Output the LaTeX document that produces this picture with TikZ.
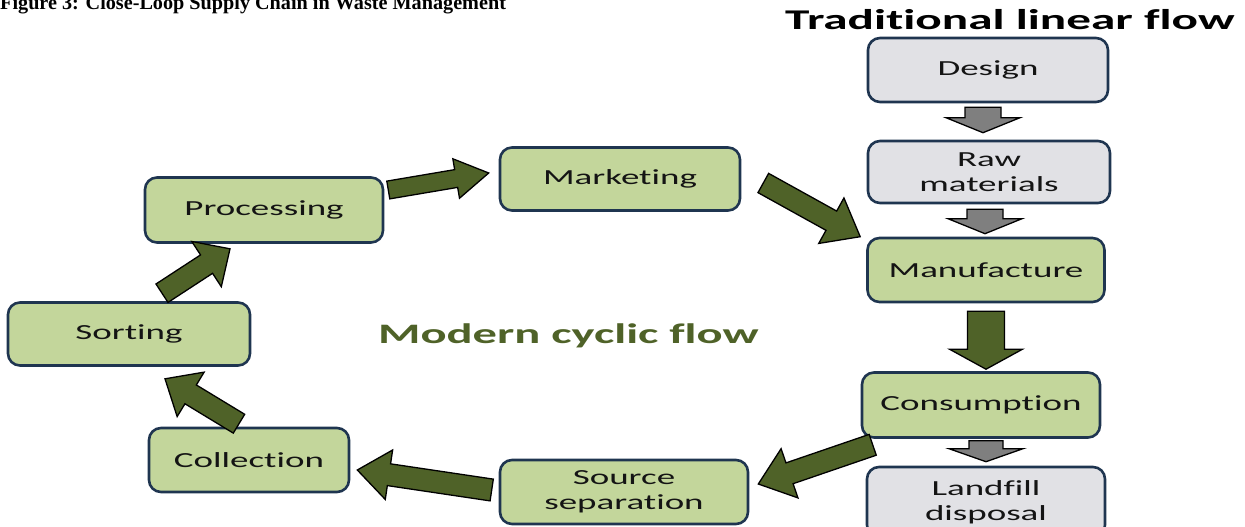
\documentclass[tikz,border=0pt]{standalone}
\usepackage{fontspec}
\setmainfont{Carlito}
\newfontfamily\boxfont[FakeStretch=1.72,Ligatures=NoCommon]{Carlito}
\newfontfamily\titlefont{Liberation Serif}
\usetikzlibrary{calc}
\definecolor{boxgreen}{HTML}{C3D69B}
\definecolor{boxgray}{HTML}{E1E1E5}
\definecolor{boxedge}{HTML}{1F3550}
\definecolor{arrgreen}{HTML}{4F6228}
\definecolor{arrgray}{HTML}{7F7F7F}
\definecolor{txt}{HTML}{141414}
\tikzset{
  stage/.style={draw=boxedge, line width=2.6pt, rounded corners=12pt, fill=boxgreen,
    text=txt, font=\boxfont\fontsize{21.5}{25}\selectfont, align=center, inner sep=0pt},
  graystage/.style={stage, fill=boxgray},
  garrow/.style={draw=black, line width=1.3pt, fill=arrgreen, line join=miter},
  grarrow/.style={draw=black, line width=1.3pt, fill=arrgray, line join=miter}
}
% #1 style, #2 from, #3 to, #4 half shaft, #5 half head, #6 head length
\newcommand\blockarr[6]{%
  \draw[#1] ($(#2)!#4!90:(#3)$)
    -- ($($(#3)!#6!(#2)$)!#4!90:(#3)$)
    -- ($($(#3)!#6!(#2)$)!#5!90:(#3)$)
    -- (#3)
    -- ($($(#3)!#6!(#2)$)!#5!-90:(#3)$)
    -- ($($(#3)!#6!(#2)$)!#4!-90:(#3)$)
    -- ($(#2)!#4!-90:(#3)$) -- cycle;}
\begin{document}
\begin{tikzpicture}[x=1pt,y=-1pt]
\useasboundingbox (0,0) rectangle (1245,527);
% titles
\node[anchor=base west, inner sep=0pt, font=\titlefont\bfseries\fontsize{20.2}{22}\selectfont] (title) at (0,10) {Figure 3: Close-Loop Supply Chain in Waste Management};
\node[anchor=base west, inner sep=0pt, font=\boxfont\bfseries\fontsize{28.6}{30}\selectfont] (trad) at (785,30) {Traditional linear flow};
\node[anchor=base west, inner sep=0pt, text=arrgreen, font=\boxfont\bfseries\fontsize{28.2}{30}\selectfont] (modern) at (378,343) {Modern cyclic flow};
% linear column
\node[graystage, minimum width=240pt, minimum height=64pt] (design) at (988,70) {Design};
\node[graystage, minimum width=242pt, minimum height=62pt] (raw) at (989,172) {Raw\\materials};
\node[stage, minimum width=237pt, minimum height=64pt] (manuf) at (986,270) {Manufacture};
\node[stage, minimum width=238pt, minimum height=65pt] (cons) at (981,405) {Consumption};
\node[graystage, minimum width=238pt, minimum height=70pt] (landfill) at (986,502) {Landfill\\disposal};
% cycle
\node[stage, minimum width=240pt, minimum height=63pt] (mkt) at (620,179) {Marketing};
\node[stage, minimum width=238pt, minimum height=65pt] (proc) at (264,210) {Processing};
\node[stage, minimum width=242pt, minimum height=63pt] (sort) at (129,334) {Sorting};
\node[stage, minimum width=200pt, minimum height=64pt] (coll) at (249,460) {Collection};
\node[stage, minimum width=248pt, minimum height=64pt] (src) at (624,492) {Source\\separation};
% arrow end points
\coordinate (a1s) at ($(design.south)+(-5,4)$);
\coordinate (a1e) at ($(raw.north)+(-6,-7)$);
\coordinate (a2s) at ($(raw.south)+(-4,5)$);
\coordinate (a2e) at ($(manuf.north)+(-1,-3)$);
\coordinate (a3s) at ($(manuf.south)+(0,8)$);
\coordinate (a3e) at ($(cons.north)+(5,-2)$);
\coordinate (a4s) at ($(cons.south)+(5,2)$);
\coordinate (a4e) at ($(landfill.north)+(0,-4)$);
\coordinate (b1s) at ($(proc.east)+(4,-20)$);
\coordinate (b1e) at ($(mkt.west)+(-10,-6)$);
\coordinate (b2s) at ($(mkt.east)+(22,4)$);
\coordinate (b2e) at ($(manuf.north west)+(-6,0)$);
\coordinate (b3s) at ($(cons.south west)+(12,6)$);
\coordinate (b3e) at ($(src.east)+(9,-8)$);
\coordinate (b4s) at ($(src.west)+(-7,-2)$);
\coordinate (b4e) at ($(coll.east)+(7,10)$);
\coordinate (b5s) at ($(coll.north)+(-10,-3)$);
\coordinate (b5e) at ($(sort.south)+(36,12)$);
\coordinate (b6s) at ($(sort.north)+(33,-8)$);
\coordinate (b6e) at ($(proc.south)+(-34,5)$);
% linear arrows
\blockarr{grarrow}{a1s}{a1e}{18pt}{37pt}{15pt}
\blockarr{grarrow}{a2s}{a2e}{18pt}{37pt}{15pt}
\blockarr{garrow}{a3s}{a3e}{18.5pt}{36.5pt}{20pt}
\blockarr{grarrow}{a4s}{a4e}{17pt}{37pt}{13pt}
% cycle arrows
\blockarr{garrow}{b1s}{b1e}{9pt}{20pt}{33pt}
\blockarr{garrow}{b2s}{b2e}{11pt}{26pt}{33pt}
\blockarr{garrow}{b3s}{b3e}{11pt}{26pt}{33pt}
\blockarr{garrow}{b4s}{b4e}{11pt}{25pt}{32pt}
\blockarr{garrow}{b5s}{b5e}{11pt}{26pt}{30pt}
\blockarr{garrow}{b6s}{b6e}{11pt}{27pt}{28pt}
\end{tikzpicture}
\end{document}
